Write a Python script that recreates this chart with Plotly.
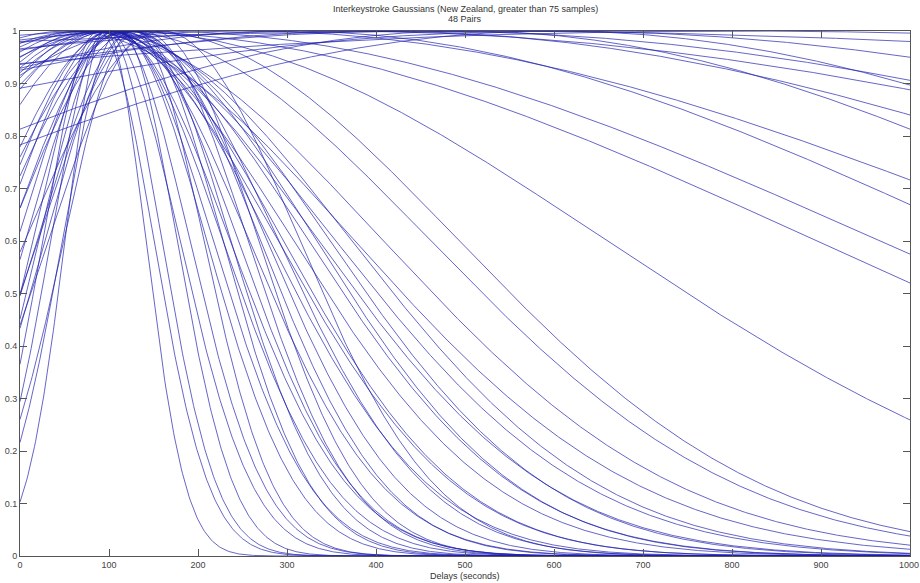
import numpy as np
import plotly.graph_objects as go

# Gaussian parameters (mean, std dev) for each of the 48 interkeystroke pairs
means = [96, 88, 112, 97, 128, 108, 128, 103, 128, 102, 116, 138, 106, 128, 123, 99, 123, 87, 96,
         89, 105, 74, 100, 70, 90, 52, 72, 110, 145, 116,
         100, 150, 300, 250, 500, 400, 350, 600, 450, 600, 500, 800,
         97, 106, 107, 150, 160, 79]
sigmas = [45, 62, 64, 82, 78, 101, 99, 124, 108, 133, 128, 117, 150, 141, 153, 180, 166, 201, 198,
          233, 226, 259, 246, 282, 280, 321, 333, 348, 345, 538,
          787, 808, 781, 918, 777, 1016, 1333, 858, 1238, 1249, 2487, 2234,
          62, 84, 109, 117, 153, 226]

title_lines = ["Interkeystroke Gaussians (New Zealand, greater than 75 samples)", "48 Pairs"]
x_label = "Delays (seconds)"
x_ticks = [0, 100, 200, 300, 400, 500, 600, 700, 800, 900, 1000]
x_tick_text = ["0", "100", "200", "300", "400", "500", "600", "700", "800", "900", ""]
last_x_tick_label = "1000"
y_ticks = [0, 0.1, 0.2, 0.3, 0.4, 0.5, 0.6, 0.7, 0.8, 0.9, 1]
y_tick_text = ["0", "0.1", "0.2", "0.3", "0.4", "0.5", "0.6", "0.7", "0.8", "0.9", "1"]

x = np.linspace(0, 1000, 801)
fig = go.Figure()
for m, s in zip(means, sigmas):
    y = np.exp(-((x - m) ** 2) / (2.0 * s ** 2))
    fig.add_trace(go.Scatter(x=x, y=y, mode="lines",
                             line=dict(color="rgb(30,30,175)", width=0.8),
                             opacity=0.85, showlegend=False, hoverinfo="skip"))

FONT = "Liberation Sans, Arial"
axis_common = dict(showgrid=False, zeroline=False, showline=True, linecolor="#555",
                   linewidth=1, mirror="ticks", ticks="inside", ticklen=7, tickcolor="#555",
                   automargin=False,
                   tickfont=dict(family=FONT, size=9, color="#444"))
fig.update_xaxes(range=[0, 1000], tickvals=x_ticks, ticktext=x_tick_text, **axis_common)
fig.update_yaxes(range=[0, 1], tickvals=y_ticks, ticktext=y_tick_text, **axis_common)

plot_h = 525
fig.add_annotation(text=title_lines[0], x=0.5, xref="paper", y=1 + (31 - 9) / plot_h, yref="paper",
                   showarrow=False, xanchor="center", yanchor="middle",
                   font=dict(family=FONT, size=9, color="#333"))
fig.add_annotation(text=title_lines[1], x=0.5, xref="paper", y=1 + (31 - 19) / plot_h, yref="paper",
                   showarrow=False, xanchor="center", yanchor="middle",
                   font=dict(family=FONT, size=9, color="#333"))
fig.add_annotation(text=x_label, x=0.5, xref="paper", y=-(576 - 556) / plot_h, yref="paper",
                   showarrow=False, xanchor="center", yanchor="middle",
                   font=dict(family=FONT, size=9, color="#333"))
fig.add_annotation(text=last_x_tick_label, x=1000, xref="x", y=-(565 - 556) / plot_h, yref="paper",
                   showarrow=False, xanchor="center", yanchor="middle", xshift=-1,
                   font=dict(family=FONT, size=9, color="#444"))

fig.update_layout(
    width=920, height=583,
    margin=dict(l=20, r=10, t=31, b=27, autoexpand=False),
    plot_bgcolor="white", paper_bgcolor="white",
)
fig.write_html("out.html", config={"displayModeBar": False},
               post_script="document.body.style.margin='0';document.body.style.overflow='hidden';")
